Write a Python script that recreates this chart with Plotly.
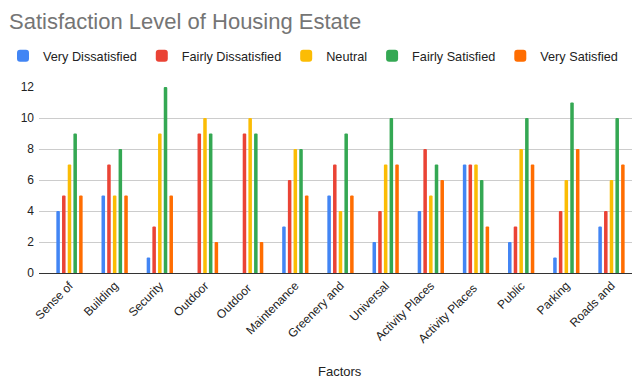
import plotly.graph_objects as go

categories = ["Sense of", "Building", "Security", "Outdoor", "Outdoor ", "Maintenance",
              "Greenery and", "Universal", "Activity Places", "Activity Places ",
              "Public", "Parking", "Roads and"]
very_dissatisfied = [4, 5, 1, 0, 0, 3, 5, 2, 4, 7, 2, 1, 3]
fairly_dissatisfied = [5, 7, 3, 9, 9, 6, 7, 4, 8, 7, 3, 4, 4]
neutral = [7, 5, 9, 10, 10, 8, 4, 7, 5, 7, 8, 6, 6]
fairly_satisfied = [9, 8, 12, 9, 9, 8, 9, 10, 7, 6, 10, 11, 10]
very_satisfied = [5, 5, 5, 2, 2, 5, 5, 7, 6, 3, 7, 8, 7]

series = [
    ("Very Dissatisfied", very_dissatisfied, "#4285F4"),
    ("Fairly Dissatisfied", fairly_dissatisfied, "#EA4335"),
    ("Neutral", neutral, "#FBBC04"),
    ("Fairly Satisfied", fairly_satisfied, "#34A853"),
    ("Very Satisfied", very_satisfied, "#FF6D01"),
]

fig = go.Figure()
for name, vals, color in series:
    fig.add_trace(go.Bar(x=categories, y=vals, name=name, marker_color=color,
                         marker_line_width=0))

W, H = 632, 380
left, top, bottom = 39, 87, 107
plot_h = H - top - bottom
fig.update_layout(
    width=W, height=H,
    margin=dict(l=left, r=0, t=top, b=bottom, autoexpand=False),
    paper_bgcolor="white", plot_bgcolor="white",
    font=dict(family="Liberation Sans, Arial, sans-serif", color="#222222", size=12),
    title=dict(text="Satisfaction Level of Housing Estate", x=9 / W, xanchor="left",
               y=1 - 21 / H, yanchor="middle",
               font=dict(size=22, color="#757575")),
    barmode="group", bargap=0.37, bargroupgap=0.38, barcornerradius=2,
    showlegend=True,
    legend=dict(orientation="h", x=(3 - left) / (W - left), xanchor="left",
                y=1 + 31 / plot_h, yanchor="middle",
                font=dict(size=12.7, color="#222222"), itemwidth=30,
                bgcolor="rgba(0,0,0,0)"),
    xaxis=dict(range=[-0.675, 12.454], tickangle=-45, showgrid=False, automargin=False,
               showline=True, linecolor="#333333", linewidth=1,
               tickfont=dict(size=12, color="#222222")),
    yaxis=dict(range=[0, 12], dtick=2, showgrid=True, gridcolor="#cccccc",
               zeroline=False, automargin=False, tickfont=dict(size=12, color="#222222"),
               ticklabelstandoff=4),
    annotations=[dict(text="Factors", xref="paper", yref="paper",
                      x=(340 - left) / (W - left), y=-(371 - (H - bottom)) / plot_h,
                      xanchor="center", yanchor="middle", showarrow=False,
                      font=dict(size=13, color="#222222"))],
)

fig.write_html("out.html")
